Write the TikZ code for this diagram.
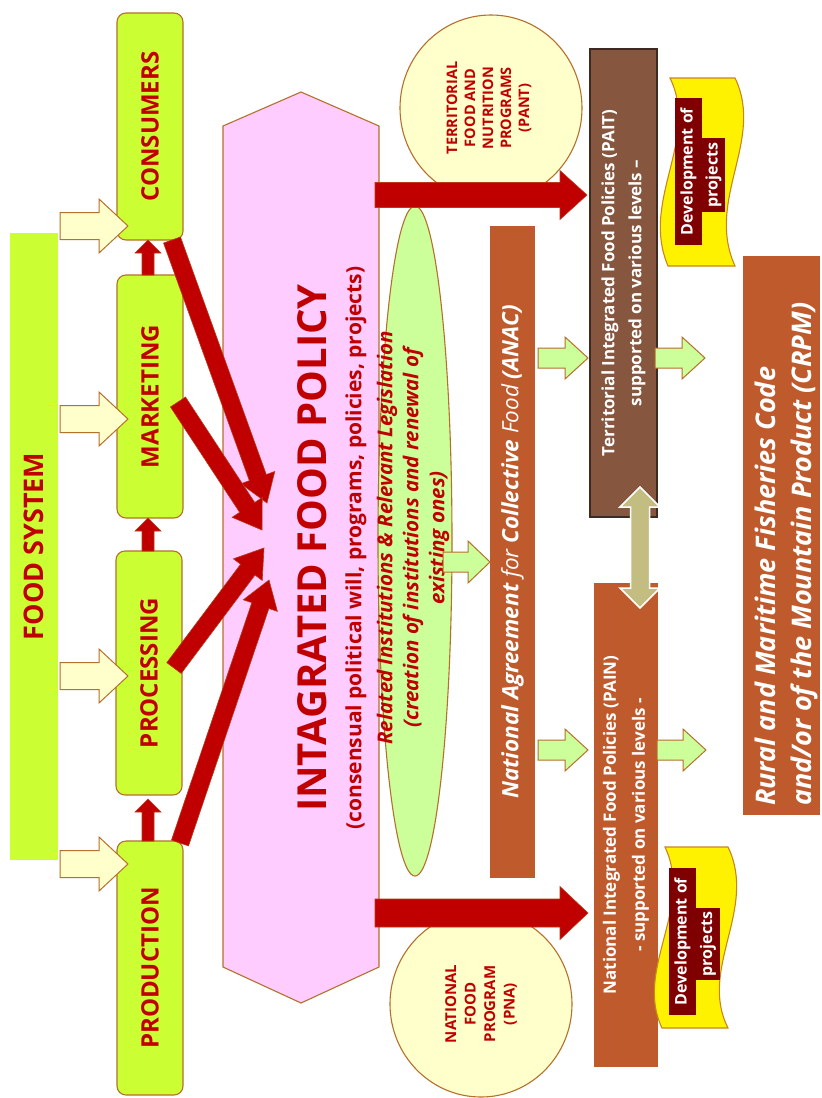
\documentclass[tikz,border=0pt]{standalone}
\usepackage{fontspec}
\setmainfont{Open Sans}
\usetikzlibrary{calc,shapes.geometric}
\definecolor{lime}{HTML}{CCFF33}
\definecolor{bord}{HTML}{B5702C}
\definecolor{redt}{HTML}{C00000}
\definecolor{cream}{HTML}{FFFFCC}
\definecolor{pinkf}{HTML}{FFCCFF}
\definecolor{lgreen}{HTML}{CCFF99}
\definecolor{rust}{HTML}{BF5A2D}
\definecolor{dbrown}{HTML}{86563E}
\definecolor{dbord}{HTML}{3D2B22}
\definecolor{khaki}{HTML}{C3BD82}
\definecolor{flagbord}{HTML}{C8861E}
\definecolor{darkred}{HTML}{7F0000}
% #1 style, #2 start, #3 tip, #4 shaft half width, #5 head half width, #6 head length
\newcommand{\blockarr}[6]{%
  \coordinate (hb) at ($(#3)!#6!(#2)$);
  \path[#1] ($(#2)!#4!90:(#3)$) -- ($(hb)!#4!-90:(#2)$) -- ($(hb)!#5!-90:(#2)$) -- (#3)
    -- ($(hb)!#5!90:(#2)$) -- ($(hb)!#4!90:(#2)$) -- ($(#2)!#4!-90:(#3)$) -- cycle;
}
\begin{document}
\begin{tikzpicture}[x=1pt,y=-1pt,
  gbox/.style={draw=bord, line width=1.1pt, fill=lime, rounded corners=9pt, rotate=90, text=redt,
    font=\bfseries\fontsize{24}{28}\selectfont, inner sep=0pt, minimum height=66pt},
  rustbox/.style={fill=rust, rotate=90, inner sep=0pt, text=white},
  creamarr/.style={draw=bord, line width=1pt, fill=cream},
  redarr/.style={fill=redt, draw=bord!50!redt, line width=0.6pt},
  greenarr/.style={draw=bord, line width=1pt, fill=lgreen},
  rtext/.style={text=redt, rotate=90, align=center, inner sep=0pt},
  devtxt/.style={fill=darkred, text=white, rotate=90, inner sep=0pt, font=\bfseries\fontsize{16}{18}\selectfont},
  flag/.style={fill=yellow, draw=flagbord, line width=1.1pt},
  circ/.style={ellipse, draw=bord, line width=1.1pt, fill=cream, minimum width=182pt, minimum height=186pt, inner sep=0pt},
]
\useasboundingbox (0,0) rectangle (822,1098);
\fill[white] (0,0) rectangle (822,1098);

% food system bar
\node[fill=lime, rotate=90, minimum width=627pt, minimum height=48pt, inner sep=0pt, text=redt,
  font=\bfseries\fontsize{27}{30}\selectfont] (fs) at (34,546.5) {FOOD SYSTEM};

% chain boxes
\node[gbox, minimum width=227pt] (cons) at (150,126.5) {CONSUMERS};
\node[gbox, minimum width=243pt] (mark) at (150,396.5) {MARKETING};
\node[gbox, minimum width=244pt] (proc) at (149,673) {PROCESSING};
\node[gbox, minimum width=254pt] (prod) at (150,968) {PRODUCTION};

% cream input arrows
\coordinate (c1a) at (60,226);  \coordinate (c1b) at (128,226);
\coordinate (c2a) at (60,419);  \coordinate (c2b) at (128,419);
\coordinate (c3a) at (60,676);  \coordinate (c3b) at (128,676);
\coordinate (c4a) at (60,864);  \coordinate (c4b) at (128,864);
\blockarr{creamarr}{c1a}{c1b}{13.5pt}{27pt}{29pt}
\blockarr{creamarr}{c2a}{c2b}{13.5pt}{27pt}{29pt}
\blockarr{creamarr}{c3a}{c3b}{13.5pt}{27pt}{29pt}
\blockarr{creamarr}{c4a}{c4b}{13.5pt}{27pt}{29pt}

% small red up arrows
\coordinate (u1a) at (148,841); \coordinate (u1b) at (148,799);
\coordinate (u2a) at (148,551); \coordinate (u2b) at (148,518);
\coordinate (u3a) at (148,275); \coordinate (u3b) at (148,240);
\blockarr{redarr}{u1a}{u1b}{6pt}{13pt}{13pt}
\blockarr{redarr}{u2a}{u2b}{6pt}{13pt}{13pt}
\blockarr{redarr}{u3a}{u3b}{6pt}{13pt}{13pt}

% pink policy hexagon
\draw[draw=bord, line width=1.1pt, fill=pinkf] (223,126) -- (301,92) -- (379,126) -- (379,967) -- (301,1003) -- (223,967) -- cycle;
\node[rtext, font=\bfseries\fontsize{40}{44}\selectfont] (title) at (312,548) {INTAGRATED FOOD POLICY};
\node[rtext, font=\bfseries\fontsize{21}{24}\selectfont] (sub) at (356,548) {(consensual political will, programs, policies, projects)};

% red diagonal arrows into policy
\coordinate (d1a) at (172,240); \coordinate (d1b) at (267,503);
\coordinate (d2a) at (178,402); \coordinate (d2b) at (262,530);
\coordinate (d3a) at (174,668); \coordinate (d3b) at (264,548);
\coordinate (d4a) at (180,843); \coordinate (d4b) at (269,580);
\blockarr{redarr}{d1a}{d1b}{9pt}{18pt}{27pt}
\blockarr{redarr}{d2a}{d2b}{9pt}{18pt}{27pt}
\blockarr{redarr}{d3a}{d3b}{9pt}{18pt}{27pt}
\blockarr{redarr}{d4a}{d4b}{9pt}{18pt}{27pt}

% circles
\node[circ] (pant) at (491,108) {};
\node[rtext, font=\bfseries\fontsize{14.5}{18}\selectfont] (panttxt) at (489,108) {TERRITORIAL\\FOOD AND\\NUTRITION\\PROGRAMS\\(PANT)};
\node[circ] (pna) at (481,1004) {};
\node[rtext, font=\bfseries\fontsize{15}{19.5}\selectfont] (pnatxt) at (481,1004) {NATIONAL\\FOOD\\PROGRAM\\(PNA)};

% ellipse institutions
\node[ellipse, draw=bord, line width=1.1pt, fill=lgreen, minimum width=74pt, minimum height=670pt, inner sep=0pt] (ell) at (415,541) {};
\node[rtext, font=\bfseries\itshape\fontsize{20.5}{26}\selectfont] (elltxt) at (413,538) {Related Institutions \& Relevant Legislation\\(creation of institutions and renewal of\\existing ones)};

% big red arrows
\coordinate (b1a) at (375,195); \coordinate (b1b) at (587,195);
\coordinate (b2a) at (375,913); \coordinate (b2b) at (588,913);
\blockarr{redarr}{b1a}{b1b}{12.5pt}{24.5pt}{27pt}
\blockarr{redarr}{b2a}{b2b}{14pt}{26.5pt}{28pt}

% ANAC
\node[rustbox, minimum width=652pt, minimum height=45pt, font=\bfseries\itshape\fontsize{22.5}{26}\selectfont] (anac) at (512.5,552)
  {National Agreement {\mdseries for} Collective {\mdseries Food} (ANAC)};

% PAIT / PAIN
\node[fill=dbrown, draw=dbord, line width=1.2pt, rotate=90, minimum width=468pt, minimum height=67pt, inner sep=0pt,
  text=white, align=center, font=\bfseries\fontsize{17}{27}\selectfont] (pait) at (623.5,283)
  {Territorial Integrated Food Policies (PAIT)\\supported on various levels –};
\node[rustbox, minimum width=484pt, minimum height=64pt, align=center, font=\bfseries\fontsize{17}{29}\selectfont] (pain) at (626,825)
  {National Integrated Food Policies (PAIN)\\- supported on various levels -};

% CRPM
\node[rustbox, minimum width=559pt, minimum height=77pt] (crpm) at (781.5,535.5) {};
\node[rotate=90, anchor=west, align=left, inner sep=0pt, text=white, font=\bfseries\itshape\fontsize{27}{36}\selectfont] (crpmtxt) at (786,806)
  {Rural and Maritime Fisheries Code\\and/or of the Mountain Product (CRPM)};

% green arrows
\coordinate (g0a) at (443,562); \coordinate (g0b) at (490,562);
\coordinate (g1a) at (538,358); \coordinate (g1b) at (588,358);
\coordinate (g2a) at (538,750); \coordinate (g2b) at (588,750);
\coordinate (g3a) at (655,358); \coordinate (g3b) at (705,358);
\coordinate (g4a) at (657,750); \coordinate (g4b) at (706,750);
\blockarr{greenarr}{g0a}{g0b}{10pt}{21pt}{22pt}
\blockarr{greenarr}{g1a}{g1b}{10pt}{21pt}{23pt}
\blockarr{greenarr}{g2a}{g2b}{10pt}{21pt}{23pt}
\blockarr{greenarr}{g3a}{g3b}{10pt}{21pt}{23pt}
\blockarr{greenarr}{g4a}{g4b}{10pt}{21pt}{23pt}

% double arrow PAIT <-> PAIN
\coordinate (dt) at (640,487); \coordinate (db) at (640,608);
\draw[fill=khaki, draw=white, line width=1.5pt] (dt) -- ($(dt)+(20,20)$) -- ($(dt)+(9.5,20)$) -- ($(db)+(9.5,-20)$) -- ($(db)+(20,-20)$)
  -- (db) -- ($(db)+(-20,-20)$) -- ($(db)+(-9.5,-20)$) -- ($(dt)+(-9.5,20)$) -- ($(dt)+(-20,20)$) -- cycle;

% flags
\draw[flag] (670,78) -- (735,78) .. controls (765,140) and (705,200) .. (735,266) -- (668,266) .. controls (640,200) and (700,140) .. (670,78) -- cycle;
\node[devtxt, minimum width=147pt, minimum height=27pt] (dev1a) at (688.5,171.5) {Development of};
\node[devtxt, minimum width=74pt, minimum height=23pt] (dev1b) at (713.5,175) {projects};
\draw[flag] (665,847) -- (728,847) .. controls (758,909) and (698,969) .. (728,1028) -- (662,1028) .. controls (634,969) and (694,909) .. (665,847) -- cycle;
\node[devtxt, minimum width=147pt, minimum height=27pt] (dev2a) at (682.5,941.5) {Development of};
\node[devtxt, minimum width=72pt, minimum height=24pt] (dev2b) at (708,944) {projects};
\end{tikzpicture}
\end{document}
